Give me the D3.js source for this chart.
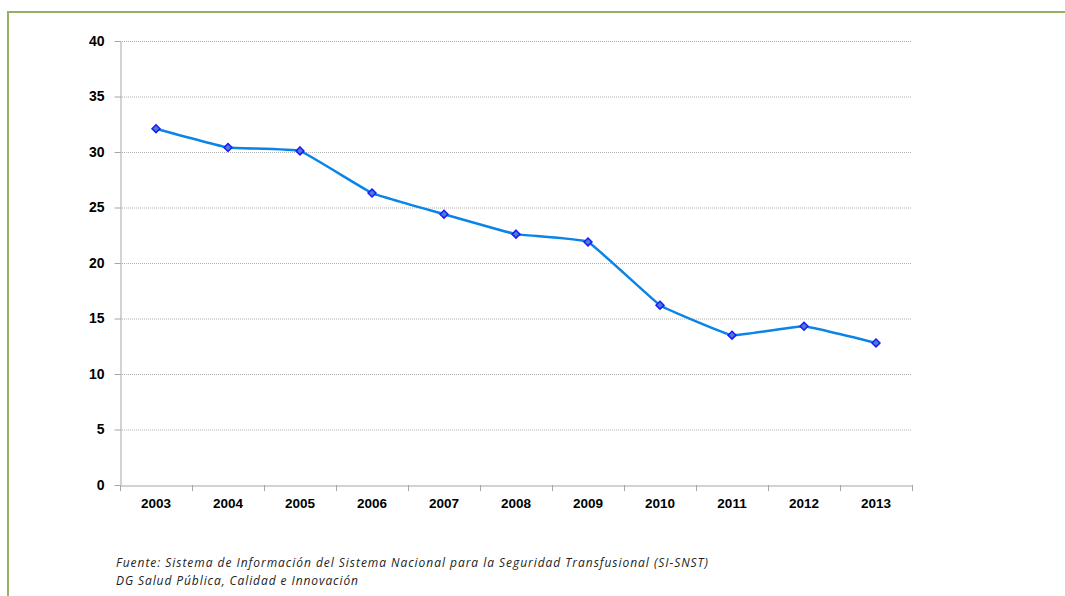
<!DOCTYPE html>
<html><head><meta charset="utf-8">
<script src="https://cdn.jsdelivr.net/npm/d3@7"></script>
<style>body{margin:0;background:#fff}svg{display:block}</style>
</head><body>
<svg id="c" width="1065" height="596"></svg>
<script>
const years = ["2003","2004","2005","2006","2007","2008","2009","2010","2011","2012","2013"];
const values = [32.1, 30.4, 30.1, 26.3, 24.4, 22.6, 21.9, 16.2, 13.5, 14.3, 12.8];
const yTicks = [0, 5, 10, 15, 20, 25, 30, 35, 40];
const sourceLines = [
  "Fuente: Sistema de Información del Sistema Nacional para la Seguridad Transfusional (SI-SNST)",
  "DG Salud Pública, Calidad e Innovación"
];
const sourceWidths = [592, 242];

const svg = d3.select("#c");
// frame
svg.append("path").attr("d","M8,600 L8,12 L1070,12").attr("fill","none")
  .attr("stroke","#94b062").attr("stroke-width",2);

const x0 = 120, x1 = 912, yTop = 41, yBot = 485;
const x = d3.scaleBand().domain(years).range([x0, x1]);
const y = d3.scaleLinear().domain([0, 40]).range([yBot, yTop]);

// gridlines
svg.append("g").selectAll("line").data(yTicks.filter(d=>d>0)).join("line")
  .attr("x1", x0).attr("x2", x1).attr("y1", d=>y(d)+0.5).attr("y2", d=>y(d)+0.5)
  .attr("stroke","#b0b0b0").attr("stroke-width",1).attr("stroke-dasharray","1,1");

// y axis
const ya = svg.append("g").attr("transform",`translate(${x0+0.5},0)`)
  .call(d3.axisLeft(y).tickValues(yTicks).tickSize(6).tickPadding(10).tickSizeOuter(0));
ya.select(".domain").attr("stroke","#a6a6a6");
ya.selectAll(".tick line").attr("stroke","#a6a6a6");
ya.selectAll("text").attr("font-family","Liberation Sans, Arial, sans-serif")
  .attr("font-size",14).attr("font-weight","bold").attr("fill","#000");

// x axis
const xa = svg.append("g").attr("transform",`translate(0,${yBot+0.5})`)
  .call(d3.axisBottom(x).tickSize(0).tickPadding(13));
xa.select(".domain").attr("stroke","#a6a6a6");
xa.selectAll("text").attr("font-family","Liberation Sans, Arial, sans-serif")
  .attr("font-size",13.5).attr("font-weight","bold").attr("fill","#000");
// category boundary ticks
svg.append("g").selectAll("line").data(d3.range(years.length+1)).join("line")
  .attr("x1", i=> (i<years.length? x(years[i]) : x1)+0.5)
  .attr("x2", i=> (i<years.length? x(years[i]) : x1)+0.5)
  .attr("y1", yBot).attr("y2", yBot+6).attr("stroke","#a6a6a6");

// line
const line = d3.line().x((d,i)=>x(years[i])+x.bandwidth()/2).y(d=>y(d))
  .curve(d3.curveCardinal.tension(0.75));
svg.append("path").datum(values).attr("d", line).attr("fill","none")
  .attr("stroke","#0a84e6").attr("stroke-width",2.5);

// markers
svg.append("g").selectAll("path").data(values).join("path")
  .attr("d", d3.symbol(d3.symbolDiamond2, 40))
  .attr("transform",(d,i)=>`translate(${x(years[i])+x.bandwidth()/2},${y(d)})`)
  .attr("fill","#4a7fd0").attr("stroke","#1a1aff").attr("stroke-width",1.5);

// source
svg.append("g").selectAll("text").data(sourceLines).join("text")
  .attr("x",116).attr("y",(d,i)=>567+i*18)
  .attr("font-family","Open Sans, sans-serif").attr("font-style","italic")
  .attr("font-size",12).attr("fill","#222")
  .attr("textLength",(d,i)=>sourceWidths[i]).attr("lengthAdjust","spacing")
  .text(d=>d);
</script>
</body></html>
